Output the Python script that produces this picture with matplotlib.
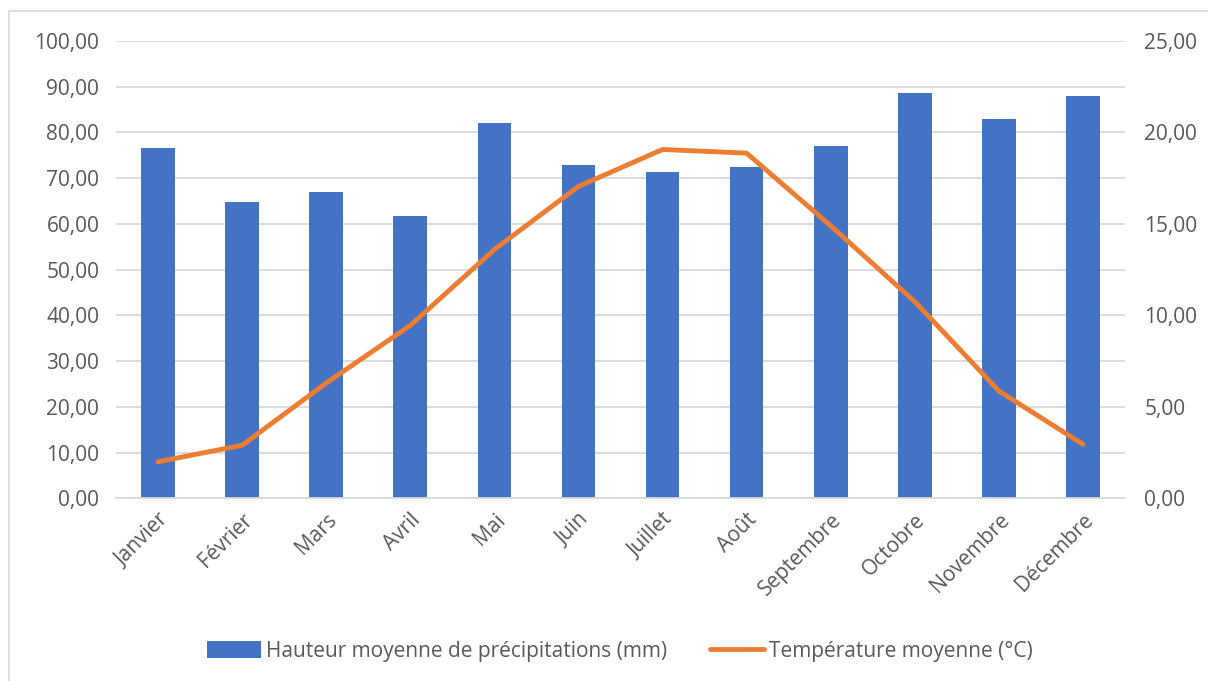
import matplotlib.pyplot as plt
import numpy as np
from matplotlib.patches import Rectangle
from matplotlib.ticker import FuncFormatter

mois = ['Janvier', 'Février', 'Mars', 'Avril', 'Mai', 'Juin', 'Juillet', 'Août',
        'Septembre', 'Octobre', 'Novembre', 'Décembre']
precip = [76.5, 64.9, 66.9, 61.7, 82.0, 72.9, 71.4, 72.5, 77.0, 88.7, 83.0, 88.0]  # mm
temp = [2.0, 2.9, 6.3, 9.45, 13.6, 17.05, 19.07, 18.87, 14.9, 10.75, 5.87, 2.95]  # °C

plt.rcParams['font.family'] = ['Open Sans', 'DejaVu Sans']
txt = '#595959'
fs = 15
fmt = FuncFormatter(lambda v, p: f'{v:.2f}'.replace('.', ','))

fig = plt.figure(figsize=(12.08, 6.81), dpi=100)
fig.patches.append(Rectangle((9 / 1208, -0.01), 1.1, 1 - 11 / 681 + 0.01,
                             transform=fig.transFigure, fill=False,
                             edgecolor='#D9D9D9', linewidth=1.2))

ax = fig.add_axes([116 / 1208, (681 - 498.3) / 681, 1009 / 1208, 457.3 / 681])
x = np.arange(len(mois))
ax.bar(x, precip, width=0.4, color='#4472C4', zorder=2,
       label='Hauteur moyenne de précipitations (mm)')
ax.set_xlim(-0.5, 11.5)
ax.set_ylim(0, 100)
ax.set_yticks(np.arange(0, 101, 10))
ax.yaxis.set_major_formatter(fmt)
ax.grid(axis='y', color='#D9D9D9', linewidth=1.3, zorder=0)
for s in ['top', 'right', 'left']:
    ax.spines[s].set_visible(False)
ax.spines['bottom'].set_color('#D9D9D9')
ax.spines['bottom'].set_linewidth(1.3)
ax.tick_params(length=0, labelsize=fs, colors=txt, pad=12)
ax.set_xticks(x)
ax.set_xticklabels(mois, rotation=45, ha='right', rotation_mode='anchor')
ax.tick_params(axis='x', pad=8)

ax2 = ax.twinx()
ax2.plot(x, temp, color='#ED7D31', linewidth=3.5, solid_capstyle='round',
         label='Température moyenne (°C)', zorder=3)
ax2.set_ylim(0, 25)
ax2.set_yticks(np.arange(0, 26, 5))
ax2.yaxis.set_major_formatter(fmt)
for s in ax2.spines.values():
    s.set_visible(False)
ax2.tick_params(length=0, labelsize=fs, colors=txt, pad=14)

h1, l1 = ax.get_legend_handles_labels()
h2, l2 = ax2.get_legend_handles_labels()
fig.legend(h1 + h2, l1 + l2, loc='center', bbox_to_anchor=(620 / 1208, 1 - 651 / 681),
           ncol=2, frameon=False, fontsize=fs, labelcolor=txt,
           handlelength=2.6, handleheight=0.9, handletextpad=0.25, columnspacing=2.05)

fig.savefig('out.png', dpi=100)
